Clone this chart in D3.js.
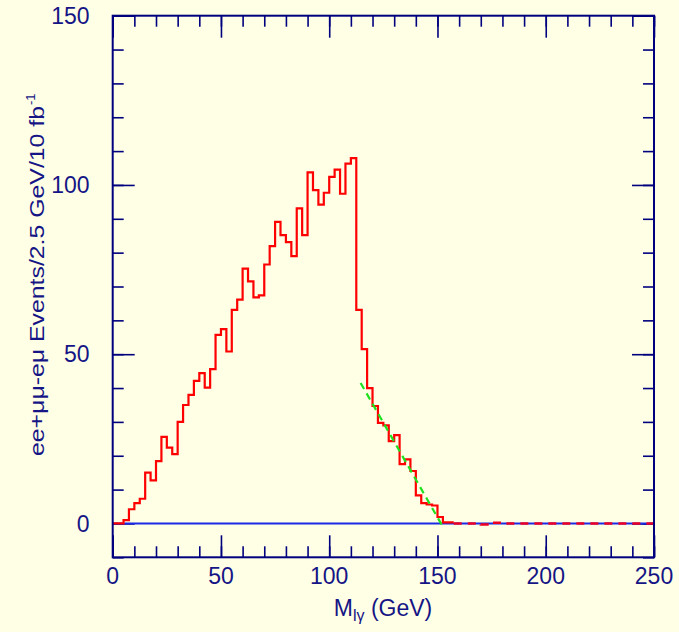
<!DOCTYPE html>
<html>
<head>
<meta charset="utf-8">
<script src="https://cdn.jsdelivr.net/npm/d3@7"></script>
<style>
  html, body { margin: 0; padding: 0; background: #ffffe6; }
  svg { display: block; }
</style>
</head>
<body>
<svg id="chart" width="679" height="632"></svg>
<script>
// ---- data ----
const binWidth = 2.5; // GeV
const counts = [
  0, 0, 1.0, 4.2, 6.0, 7.3, 15.0, 12.7, 18.4, 25.6,
  22.4, 20.5, 30.0, 35.0, 38.0, 42.1, 44.4, 40.1, 45.6, 55.7,
  57.4, 50.8, 63.1, 66.1, 75.3, 71.5, 66.8, 67.4, 76.5, 81.9,
  89.1, 85.2, 83.1, 79.0, 93.1, 85.2, 103.7, 98.5, 94.2, 97.7,
  102.4, 104.5, 97.4, 106.3, 107.9, 63.1, 51.5, 40.0, 34.7, 29.7,
  29.0, 24.3, 26.1, 17.5, 18.9, 15.5, 8.3, 6.0, 5.6, 5.3,
  1.9, 0.3, 0.3, 0, 0, 0, 0, 0, -0.3, -0.3,
  0.2, 0.2, 0, 0, 0, 0, 0, 0, 0, 0,
  0, 0, 0, 0, 0, 0, 0, 0, 0, 0,
  0, 0, 0, 0, 0, 0, 0, 0, 0, 0
];
const solidBins = 63;          // bins drawn solid; the rest dashed
const fitX = [114.5, 152.5];   // linear end-point fit (GeV)
const fitY = [41.5, -1.0];
const xMajorTicks = [0, 50, 100, 150, 200, 250];
const xMinorTicks = d3.range(0, 251, 10);
const yMajorTicks = [0, 50, 100, 150];
const yMinorTicks = d3.range(-10, 151, 10);
const xDomain = [0, 250];
const yDomain = [-10, 150];

// ---- layout ----
const L = 112.7, R = 654, T = 15.7, B = 557.3;
const navy = "#00007f";
const textCol = "#151585";
const svg = d3.select("#chart");
svg.append("rect").attr("width", 679).attr("height", 632).attr("fill", "#ffffe6");

const x = d3.scaleLinear().domain(xDomain).range([L, R]);
const y = d3.scaleLinear().domain(yDomain).range([B, T]);

// ---- ticks (all four sides, inward) ----
function ticks(g, axisGen) { g.call(axisGen); g.select(".domain").remove(); g.selectAll("line").attr("stroke", navy).attr("stroke-width", 1.6); }
const minorLen = 11, majorLen = 22;
svg.append("g").attr("transform", `translate(0,${B})`)
  .call(g => ticks(g, d3.axisTop(x).tickValues(xMinorTicks).tickSize(minorLen).tickFormat("")));
svg.append("g").attr("transform", `translate(0,${B})`)
  .call(g => ticks(g, d3.axisTop(x).tickValues(xMajorTicks).tickSize(majorLen).tickFormat("")));
svg.append("g").attr("transform", `translate(0,${T})`)
  .call(g => ticks(g, d3.axisBottom(x).tickValues(xMinorTicks).tickSize(minorLen).tickFormat("")));
svg.append("g").attr("transform", `translate(0,${T})`)
  .call(g => ticks(g, d3.axisBottom(x).tickValues(xMajorTicks).tickSize(majorLen).tickFormat("")));
svg.append("g").attr("transform", `translate(${L},0)`)
  .call(g => ticks(g, d3.axisRight(y).tickValues(yMinorTicks).tickSize(minorLen).tickFormat("")));
svg.append("g").attr("transform", `translate(${L},0)`)
  .call(g => ticks(g, d3.axisRight(y).tickValues(yMajorTicks).tickSize(majorLen).tickFormat("")));
svg.append("g").attr("transform", `translate(${R},0)`)
  .call(g => ticks(g, d3.axisLeft(y).tickValues(yMinorTicks).tickSize(minorLen).tickFormat("")));
svg.append("g").attr("transform", `translate(${R},0)`)
  .call(g => ticks(g, d3.axisLeft(y).tickValues(yMajorTicks).tickSize(majorLen).tickFormat("")));

// tick labels
const font = "'Liberation Sans', Arial, Helvetica, sans-serif";
svg.append("g").selectAll("text").data(xMajorTicks).join("text")
  .attr("x", d => x(d)).attr("y", 583.5)
  .attr("text-anchor", "middle").attr("font-family", font).attr("font-size", 23)
  .attr("fill", textCol).text(d => d);
svg.append("g").selectAll("text").data(yMajorTicks).join("text")
  .attr("x", 89.5).attr("y", d => y(d) + 8.2)
  .attr("text-anchor", "end").attr("font-family", font).attr("font-size", 23)
  .attr("fill", textCol).text(d => d);

// ---- zero line ----
svg.append("line").attr("x1", x(xDomain[0])).attr("x2", x(xDomain[1]))
  .attr("y1", y(0)).attr("y2", y(0)).attr("stroke", "#1a2ae6").attr("stroke-width", 2);

// ---- histogram ----
const pts = counts.map((c, i) => [i * binWidth, c]);
const line = d3.line().x(d => x(d[0])).y(d => y(d[1])).curve(d3.curveStepAfter);
const solidPts = pts.slice(0, solidBins).concat([[solidBins * binWidth, counts[solidBins - 1]]]);
const dashPts = pts.slice(solidBins).concat([[counts.length * binWidth, counts[counts.length - 1]]]);
svg.append("path").attr("d", line(solidPts)).attr("fill", "none")
  .attr("stroke", "#ff0000").attr("stroke-width", 2.2).attr("stroke-linejoin", "miter");
svg.append("path").attr("d", line(dashPts)).attr("fill", "none")
  .attr("stroke", "#ee0022").attr("stroke-width", 2.4).attr("stroke-dasharray", "8,6");

// ---- fit line ----
svg.append("path").attr("d", d3.line().x(d => x(d[0])).y(d => y(d[1]))(fitX.map((v, i) => [v, fitY[i]])))
  .attr("fill", "none").attr("stroke", "#1ee01e").attr("stroke-width", 2.2).attr("stroke-dasharray", "7,5");

// ---- frame ----
svg.append("rect").attr("x", L).attr("y", T).attr("width", R - L).attr("height", B - T)
  .attr("fill", "none").attr("stroke", navy).attr("stroke-width", 2);

// ---- axis titles ----
const xt = svg.append("text").attr("x", 383).attr("y", 616).attr("text-anchor", "middle")
  .attr("font-family", font).attr("font-size", 23).attr("fill", textCol);
xt.append("tspan").text("M");
xt.append("tspan").attr("font-size", 16).attr("dy", 5).text("lγ");
xt.append("tspan").attr("dy", -5).text(" (GeV)");

const yg = svg.append("g").attr("transform", "translate(44,456) rotate(-90)");
yg.append("text").attr("x", 0).attr("y", 0)
  .attr("font-family", font).attr("font-size", 20).attr("fill", textCol)
  .attr("textLength", 350).attr("lengthAdjust", "spacingAndGlyphs")
  .text("ee+μμ-eμ Events/2.5 GeV/10 fb");
yg.append("text").attr("x", 351).attr("y", -9)
  .attr("font-family", font).attr("font-size", 13).attr("fill", textCol)
  .text("-1");
</script>
</body>
</html>
